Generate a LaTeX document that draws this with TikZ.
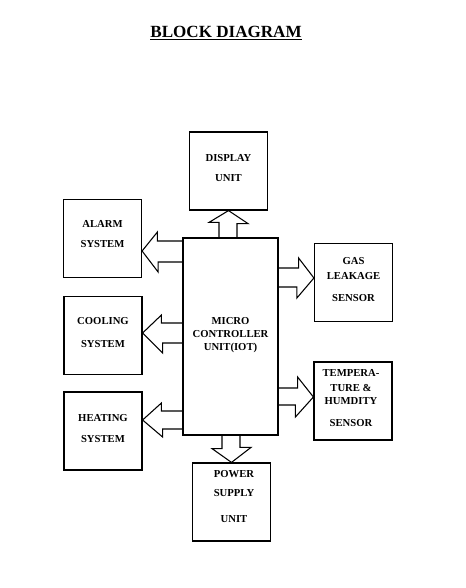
\documentclass[tikz,border=0pt]{standalone}
\usepackage{fontspec}
\setmainfont{Liberation Serif}
\tikzset{
  blk/.style={draw,line width=.9pt,minimum width=58.5pt,minimum height=58.5pt,inner sep=0pt},
  lbl/.style={font=\fontsize{8}{9.75}\selectfont\bfseries,align=center,anchor=north,inner sep=0pt},
  fat/.style={draw,line width=.8pt,line join=miter}
}

\begin{document}
\begin{tikzpicture}[x=.75pt,y=-.75pt]
\useasboundingbox (0,0) rectangle (465,588);

\node[font=\fontsize{12.8}{15}\selectfont\bfseries,anchor=base] (title) at (226,37.5)
  {\underline{BLOCK DIAGRAM}};

% boxes
\node[blk,minimum width=71.25pt,minimum height=147.75pt] (micro) at (230.5,336.5) {};
\node[blk] (display) at (228.5,171) {};
\node[blk] (alarm) at (102.5,238.5) {};
\node[blk] (cooling) at (103,335.5) {};
\node[blk] (heating) at (103,431) {};
\node[blk] (gas) at (353.5,282.5) {};
\node[blk] (temp) at (353,401) {};
\node[blk] (power) at (231.5,502) {};

% texts
\node[lbl] (micro-t) at (230.5,317.5) {MICRO\\CONTROLLER\\UNIT(IOT)};
\node[lbl] (display-t) at (228.5,154.5) {DISPLAY\\[5.25pt]UNIT};
\node[lbl] (alarm-t) at (102.5,220.5) {ALARM\\[5.25pt]SYSTEM};
\node[lbl] (cooling-t) at (103,317.5) {COOLING\\[7.5pt]SYSTEM};
\node[lbl] (heating-t) at (103,414.5) {HEATING\\[6pt]SYSTEM};
\node[lbl] (gas-t) at (353.5,257.5) {GAS\\[1.5pt]LEAKAGE\\[6.75pt]SENSOR};
\node[lbl] (temp-t) at (351,369.5) {TEMPERA-\\[1.5pt]TURE \&\\HUMDITY\\[6.75pt]SENSOR};
\node[lbl] (power-t) at (234,470.5) {POWER\\[4.5pt]SUPPLY\\[9.75pt]UNIT};

% block arrows
\draw[fat]
  (micro.north -| 219,0) -- ++(0,-15) -- ++(-10,0) --
  (display.south) -- ++(19.5,13) -- ++(-11,0) --
  (micro.north -| 237,0);
\draw[fat]
  (micro.south -| 222,0) -- ++(0,13) -- ++(-10,0) --
  (power.north) -- ++(19.5,-15) -- ++(-11,0) --
  (micro.south -| 240,0);
\draw[fat]
  (micro.west |- 0,241) -- ++(-25,0) -- ++(0,-9) --
  (alarm.east |- 0,251) -- ++(16,21) -- ++(0,-10) --
  (micro.west |- 0,262);
\draw[fat]
  (micro.west |- 0,323) -- ++(-21,0) -- ++(0,-8) --
  (cooling.east |- 0,333) -- ++(20,20) -- ++(0,-10) --
  (micro.west |- 0,343);
\draw[fat]
  (micro.west |- 0,411) -- ++(-21,0) -- ++(0,-8) --
  (heating.east |- 0,420) -- ++(20,17) -- ++(0,-8) --
  (micro.west |- 0,429);
\draw[fat]
  (micro.east |- 0,268) -- ++(20,0) -- ++(0,-10) --
  (gas.west |- 0,278) -- ++(-17,20) -- ++(0,-11) --
  (micro.east |- 0,287);
\draw[fat]
  (micro.east |- 0,388) -- ++(19,0) -- ++(0,-11) --
  (temp.west |- 0,397) -- ++(-18,20) -- ++(0,-12) --
  (micro.east |- 0,405);
\end{tikzpicture}
\end{document}
